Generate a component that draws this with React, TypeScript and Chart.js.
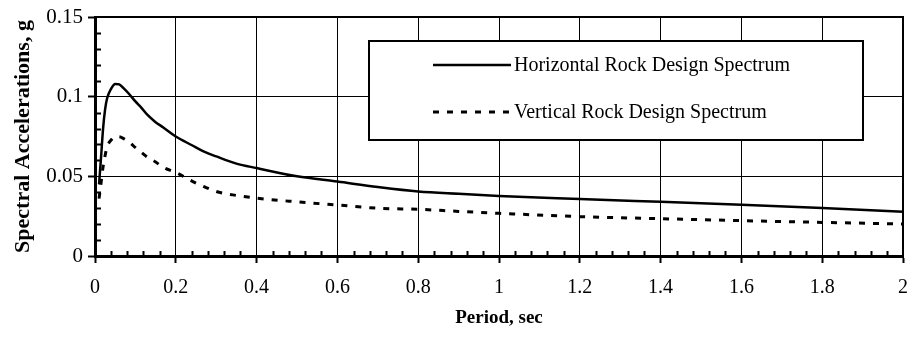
import React, { useEffect, useRef } from "react";
import { Chart, registerables } from "chart.js";

Chart.register(...registerables);

// ---- Data ----
const periods = [0.01, 0.015, 0.02, 0.025, 0.03, 0.04, 0.05, 0.06, 0.07, 0.085, 0.1, 0.115, 0.13, 0.15, 0.17, 0.2, 0.24, 0.27, 0.3, 0.35, 0.4, 0.5, 0.6, 0.7, 0.8, 0.9, 1.0, 1.2, 1.4, 1.6, 1.8, 2.0];
const horizontalSpectrum = [0.045, 0.062, 0.08, 0.092, 0.099, 0.105, 0.108, 0.1077, 0.1055, 0.1015, 0.097, 0.093, 0.0885, 0.084, 0.0805, 0.075, 0.0695, 0.0655, 0.0625, 0.058, 0.0552, 0.05, 0.0467, 0.0433, 0.0405, 0.039, 0.0377, 0.0358, 0.034, 0.0322, 0.0301, 0.0277];
const verticalSpectrum = [0.036, 0.046, 0.056, 0.063, 0.0685, 0.0728, 0.0749, 0.0748, 0.0738, 0.0715, 0.068, 0.065, 0.062, 0.059, 0.0555, 0.0525, 0.047, 0.0435, 0.0405, 0.038, 0.0363, 0.034, 0.032, 0.03, 0.0293, 0.028, 0.0268, 0.0247, 0.0234, 0.0222, 0.0211, 0.0201];
const seriesLabels = ["Horizontal Rock Design Spectrum", "Vertical Rock Design Spectrum"];
const xAxisTitle = "Period, sec";
const yAxisTitle = "Spectral Accelerations, g";
const xRange = [0, 2];
const yRange = [0, 0.15];
const xMajorStep = 0.2;
const yMajorStep = 0.05;
const xMinorStep = 0.04;
const yMinorStep = 0.01;

const FONT = '"Liberation Serif", "Times New Roman", Times, serif';

const fmt = (v: number) => String(Number(Number(v).toFixed(3)));

const decorPlugin = {
  id: "decor",
  afterDatasetsDraw(chart: any) {
    const { ctx, chartArea: a, scales } = chart;
    const xs = scales.x;
    const ys = scales.y;
    ctx.save();
    ctx.strokeStyle = "#000";
    // top & right frame
    ctx.lineWidth = 2;
    ctx.beginPath();
    ctx.moveTo(a.left, a.top);
    ctx.lineTo(a.right, a.top);
    ctx.lineTo(a.right, a.bottom);
    ctx.stroke();

    // minor ticks (inside)
    ctx.lineWidth = 2;
    ctx.beginPath();
    const nx = Math.round((xRange[1] - xRange[0]) / xMinorStep);
    const perX = Math.round(xMajorStep / xMinorStep);
    for (let i = 1; i < nx; i++) {
      if (i % perX === 0) continue;
      const px = Math.round(xs.getPixelForValue(xRange[0] + i * xMinorStep)) + 0.5;
      ctx.moveTo(px, a.bottom);
      ctx.lineTo(px, a.bottom - 5);
    }
    const ny = Math.round((yRange[1] - yRange[0]) / yMinorStep);
    const perY = Math.round(yMajorStep / yMinorStep);
    for (let i = 1; i < ny; i++) {
      if (i % perY === 0) continue;
      const py = Math.round(ys.getPixelForValue(yRange[0] + i * yMinorStep)) + 0.5;
      ctx.moveTo(a.left, py);
      ctx.lineTo(a.left + 6, py);
    }
    ctx.stroke();

    // legend box
    const bx = 369, by = 41, bw = 494, bh = 99;
    ctx.fillStyle = "#fff";
    ctx.fillRect(bx, by, bw, bh);
    ctx.lineWidth = 2;
    ctx.strokeRect(bx, by, bw, bh);
    const rows = [65, 112];
    chart.data.datasets.forEach((ds: any, i: number) => {
      const y = rows[i];
      ctx.save();
      ctx.strokeStyle = ds.borderColor;
      ctx.lineWidth = ds.borderWidth;
      ctx.setLineDash(ds.borderDash || []);
      ctx.beginPath();
      ctx.moveTo(433, y);
      ctx.lineTo(511, y);
      ctx.stroke();
      ctx.restore();
      ctx.fillStyle = "#000";
      ctx.font = `20px ${FONT}`;
      ctx.textBaseline = "middle";
      ctx.textAlign = "left";
      ctx.fillText(ds.label, 514, y + 1);
    });
    ctx.restore();
  },
};

export default function App() {
  const ref = useRef<HTMLCanvasElement | null>(null);
  useEffect(() => {
    if (!ref.current) return;
    const chart = new Chart(ref.current, {
      type: "line",
      data: {
        datasets: [
          {
            label: seriesLabels[0],
            data: periods.map((t, i) => ({ x: t, y: horizontalSpectrum[i] })),
            borderColor: "#000",
            borderWidth: 2.5,
            pointRadius: 0,
            fill: false,
            cubicInterpolationMode: "monotone",
          },
          {
            label: seriesLabels[1],
            data: periods.map((t, i) => ({ x: t, y: verticalSpectrum[i] })),
            borderColor: "#000",
            borderWidth: 3,
            borderDash: [6, 8],
            pointRadius: 0,
            fill: false,
            cubicInterpolationMode: "monotone",
          },
        ],
      },
      options: {
        responsive: false,
        animation: false,
        events: [],
        layout: { padding: { top: 17, right: 9, left: 0, bottom: 0 }, autoPadding: false },
        plugins: { legend: { display: false }, tooltip: { enabled: false }, title: { display: false } },
        scales: {
          x: {
            type: "linear",
            min: xRange[0],
            max: xRange[1],
            afterFit: (s: any) => { s.height = 83; s.paddingLeft = 0; s.paddingRight = 0; },
            ticks: { stepSize: xMajorStep, color: "#000", font: { family: FONT, size: 20 }, padding: 13, maxRotation: 0, callback: (v: any) => fmt(v) },
            grid: { color: "#000", lineWidth: 1, tickLength: 7, tickColor: "#000", tickWidth: 2, drawTicks: true },
            border: { display: true, color: "#000", width: 3 },
            title: { display: true, text: xAxisTitle, color: "#000", font: { family: FONT, size: 19, weight: "bold" }, padding: { top: 0, bottom: 10 } },
          },
          y: {
            type: "linear",
            min: yRange[0],
            max: yRange[1],
            afterFit: (s: any) => { s.width = 95; s.paddingTop = 0; s.paddingBottom = 0; },
            ticks: { stepSize: yMajorStep, color: "#000", font: { family: FONT, size: 21 }, padding: 5, callback: (v: any) => fmt(v) },
            grid: { color: "#000", lineWidth: 1, tickLength: 7, tickColor: "#000", tickWidth: 2, drawTicks: true },
            border: { display: true, color: "#000", width: 3 },
            title: { display: true, text: yAxisTitle, color: "#000", font: { family: FONT, size: 22, weight: "bold" }, padding: { top: 10, bottom: 0 } },
          },
        },
      },
      plugins: [decorPlugin],
    } as any);
    return () => chart.destroy();
  }, []);
  return (
    <div style={{ position: "absolute", left: 0, top: 0, width: 912, height: 339, background: "#fff" }}>
      <canvas ref={ref} width={912} height={339} style={{ display: "block" }} />
    </div>
  );
}
